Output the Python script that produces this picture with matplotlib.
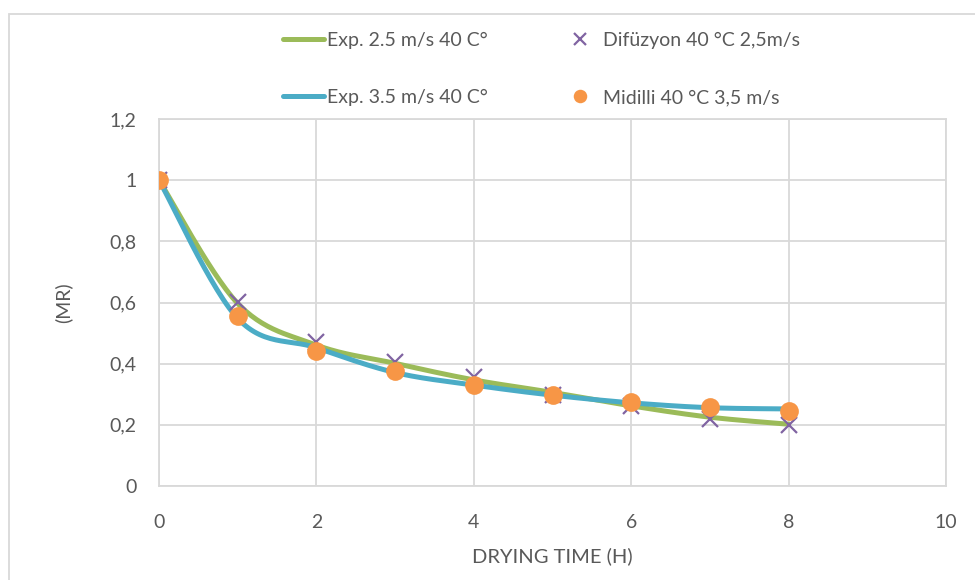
import numpy as np
import matplotlib.pyplot as plt
from matplotlib.patches import Rectangle

plt.rcParams['font.family'] = ['Lato', 'DejaVu Sans']

# hours
hours = [0, 1, 2, 3, 4, 5, 6, 7, 8]
# experimental curves
exp_25 = [1.0, 0.597, 0.461, 0.401, 0.347, 0.306, 0.262, 0.225, 0.202]
exp_35 = [1.0, 0.548, 0.452, 0.371, 0.330, 0.297, 0.272, 0.256, 0.252]
# model points
difuzyon = [1.0, 0.603, 0.472, 0.405, 0.357, 0.297, 0.260, 0.218, 0.200]
midilli = [1.0, 0.557, 0.442, 0.376, 0.330, 0.298, 0.274, 0.257, 0.246]

xticks = [0, 2, 4, 6, 8, 10]
yticks = [0, 0.2, 0.4, 0.6, 0.8, 1.0, 1.2]
ytick_labels = ['0', '0,2', '0,4', '0,6', '0,8', '1', '1,2']

green = '#9BBB59'
blue = '#4BACC6'
purple = '#8064A2'
orange = '#F79646'
grid_c = '#D9D9D9'
text_c = '#595959'


def smooth(xs, ys, n=30):
    # excel style smoothed line (catmull-rom as bezier)
    p = np.column_stack([xs, ys]).astype(float)
    p = np.vstack([p[0], p, p[-1]])
    out = []
    t = np.linspace(0, 1, n)[:, None]
    for i in range(1, len(p) - 2):
        p0, p1, p2, p3 = p[i - 1], p[i], p[i + 1], p[i + 2]
        c1 = p1 + (p2 - p0) / 6
        c2 = p2 - (p3 - p1) / 6
        seg = ((1 - t) ** 3) * p1 + 3 * ((1 - t) ** 2) * t * c1 + 3 * (1 - t) * t ** 2 * c2 + t ** 3 * p2
        out.append(seg)
    out = np.vstack(out)
    return out[:, 0], out[:, 1]


fig = plt.figure(figsize=(9.75, 5.8), dpi=100)
ax = fig.add_axes([159 / 975, 1 - 486 / 580, (946 - 159) / 975, (486 - 119) / 580])

sx, sy = smooth(hours, exp_25)
ax.plot(sx, sy, color=green, lw=3.6, solid_capstyle='round', label='Exp. 2.5 m/s 40 C°', zorder=3)
sx, sy = smooth(hours, exp_35)
ax.plot(sx, sy, color=blue, lw=3.6, solid_capstyle='round', label='Exp. 3.5 m/s 40 C°', zorder=3)
ax.plot(hours, difuzyon, ls='none', marker='x', ms=12, mew=1.6, color=purple,
        label='Difüzyon 40 °C 2,5m/s', zorder=4)
ax.plot(hours, midilli, ls='none', marker='o', ms=13.5, mew=0, color=orange,
        label='Midilli 40 °C 3,5 m/s', zorder=5)

ax.set_xlim(0, 10)
ax.set_ylim(0, 1.2)
ax.set_xticks(xticks)
ax.set_yticks(yticks)
ax.set_yticklabels(ytick_labels)
ax.grid(True, color=grid_c, lw=1.3)
ax.set_axisbelow(True)
for s in ax.spines.values():
    s.set_color(grid_c)
    s.set_linewidth(1.3)
ax.tick_params(length=0, labelsize=14, colors=text_c, pad=16)
ax.tick_params(axis='x', pad=20)

ax.set_xlabel('DRYING TIME (H)', fontsize=14.5, color=text_c, labelpad=12)
ax.set_ylabel('(MR)', fontsize=14, color=text_c, labelpad=27)

leg = fig.legend(loc='upper left', bbox_to_anchor=(283 / 975, 1 - 32 / 580), ncol=2,
                 frameon=False, fontsize=14, handlelength=2.1, handletextpad=0.15,
                 columnspacing=3.7, labelspacing=2.05, borderpad=0, borderaxespad=0,
                 markerscale=0.72)
for t in leg.get_texts():
    t.set_color(text_c)

fig.patches.append(Rectangle((9 / 975, -0.05), 1.1, 1 - 14 / 580 + 0.05, transform=fig.transFigure,
                             fill=False, edgecolor=grid_c, lw=1.3))

fig.savefig('out.png', dpi=100)
